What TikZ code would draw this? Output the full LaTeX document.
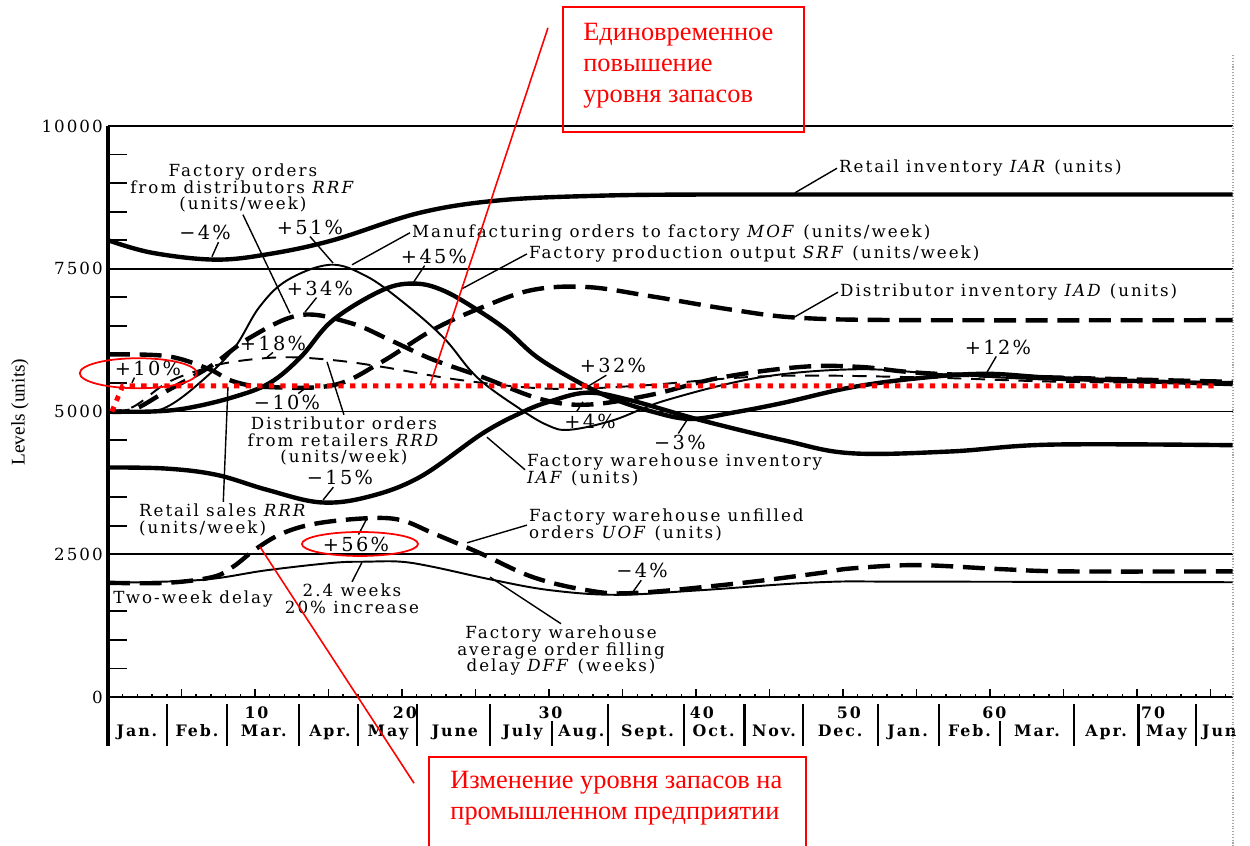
\documentclass[tikz,border=0pt]{standalone}
\usepackage{fontspec}
\setmainfont{DejaVu Serif}
\newfontfamily\chartfont[LetterSpace=12]{DejaVu Serif}
\newfontfamily\notefont{Liberation Serif}
\newfontfamily\levelfont{Liberation Serif}
\usetikzlibrary{positioning,calc}
\definecolor{notered}{RGB}{255,0,0}

\begin{document}
\begin{tikzpicture}[x=0.294cm, y=1.142cm,
    thincurve/.style={line width=1.1pt},
    thickcurve/.style={line width=2.5pt},
    thindash/.style={line width=1.1pt, dash pattern=on 8pt off 5.5pt},
    thickdash/.style={line width=2.5pt, dash pattern=on 12.5pt off 5.5pt},
    gridline/.style={line width=1pt},
    leader/.style={line width=0.8pt},
    lbl/.style={font=\chartfont\fontsize{9.5}{9.5}\selectfont, inner sep=1pt},
    pct/.style={font=\chartfont\fontsize{11}{11}\selectfont, inner sep=1pt},
    ticklbl/.style={font=\chartfont\fontsize{9.5}{10}\selectfont, inner sep=0pt},
    monthlbl/.style={font=\chartfont\bfseries\fontsize{9}{10}\selectfont, inner sep=0pt, anchor=base},
    notebox/.style={draw=notered, line width=1.2pt},
    notetext/.style={text=notered, font=\notefont\fontsize{15}{17.6}\selectfont, align=left, inner sep=0pt, anchor=north west},
    notelink/.style={draw=notered, line width=0.9pt},
    ring/.style={draw=notered, line width=1pt},
    reddots/.style={draw=notered, line width=2.8pt, dash pattern=on 3pt off 3.6pt}]
  \clip (-7.347,-2.609) rectangle (77.687,12.207);

  \foreach \v/\t in {0/0, 2.5/2500, 5/5000, 7.5/7500, 10/10000} {
    \draw[gridline] (0,\v) -- (76.5,\v);
    \node[ticklbl, anchor=east] (ytick\t) at (-0.34,\v) {\t};
  }
  \foreach \v in {0.5,1,...,9.5}
    \draw[line width=1pt] (0,\v) -- (1.3,\v);
  \draw[line width=2pt] (0,10) -- (0,-0.85);
  \foreach \w in {1,...,76}
    \draw[line width=0.8pt] (\w,0) -- (\w,0.06);
  \foreach \w in {5,10,...,75}
    \draw[line width=0.8pt] (\w,0) -- (\w,0.14);
  \foreach \m/\top in {4/-0.12, 8.1/-0.12, 13/-0.12, 17/-0.12, 21/-0.12, 26/-0.12, 30.2/-0.42, 34/-0.12, 39.2/-0.12,
      43.3/-0.12, 47.3/-0.12, 52.4/-0.12, 56.5/-0.12, 60.7/-0.42, 65.7/-0.12, 70.1/-0.12, 74/-0.12}
    \draw[line width=1.2pt] (\m,\top) -- (\m,-0.85);
  \foreach \w/\x in {10/10.1, 20/20.2, 30/30.1, 40/40.4, 50/50.4, 60/60.3, 70/71.1}
    \node[monthlbl] (wk\w) at (\x,-0.37) {\w};
  \foreach \x/\m [count=\i] in {1.97/Jan., 6.05/Feb., 10.6/Mar., 15.1/Apr., 19.05/May, 23.6/June,
      28.2/July, 32.2/Aug., 36.7/Sept., 41.2/Oct., 45.3/Nov., 49.8/Dec., 54.4/Jan., 58.6/Feb.,
      63.2/Mar., 67.9/Apr., 72.0/May, 75.6/Jun}
    \node[monthlbl] (mon\i) at (\x,-0.70) {\m};
  \node[rotate=90, font=\levelfont\fontsize{11}{12}\selectfont] (ylbl) at (-5.99,4.99) {Levels (units)};
  \draw[densely dotted, gray!70, line width=0.6pt] (76.53,11.24) -- (76.53,-2.609);

  \draw[thickcurve] plot [smooth, tension=0.6] coordinates {(0,8.0) (3,7.78) (7.3,7.66) (11,7.76) (15.3,8.0) (21.2,8.48) (26.7,8.7) (33.5,8.78) (40.3,8.8) (50,8.8) (76.5,8.8)};
  \draw[thincurve] plot [smooth, tension=0.6] coordinates {(0,5.0) (2.5,5.0) (4,5.08) (6,5.45) (8.5,6.08) (10.3,6.83) (12.2,7.3) (15.1,7.57) (17.5,7.38) (19.9,6.95) (22.8,6.3) (25.1,5.6) (28,5.05) (29.9,4.76) (31.4,4.68) (34.4,4.85) (38,5.2) (44.4,5.6) (51,5.74) (57,5.65) (65,5.55) (76.5,5.52)};
  \draw[thickcurve] plot [smooth, tension=0.6] coordinates {(0,5.0) (3,5.0) (5.4,5.06) (8.5,5.25) (11,5.5) (13.1,5.95) (15.3,6.6) (18.7,7.13) (20.9,7.24) (22.8,7.12) (25,6.8) (27.1,6.43) (29.2,5.95) (32.1,5.5) (34.4,5.22) (37,5.0) (39.6,4.87) (42.5,4.98) (45.9,5.15) (50.5,5.42) (55,5.58) (59.7,5.66) (65,5.58) (76.5,5.48)};
  \draw[thickcurve] plot [smooth, tension=0.6] coordinates {(0,4.02) (4,4.0) (7.4,3.89) (10.8,3.63) (14.4,3.41) (17.6,3.5) (21.2,3.85) (25.5,4.62) (28.2,4.99) (30,5.17) (32.6,5.33) (35.5,5.2) (40.3,4.85) (45.9,4.5) (50.5,4.27) (57.3,4.3) (64.1,4.42) (76.5,4.41)};
  \draw[thickdash] plot [smooth, tension=0.6] coordinates {(0,6.0) (4,5.97) (6.8,5.75) (8.5,5.53) (10.8,5.43) (15.3,5.46) (18.5,5.85) (22.1,6.43) (25.5,6.83) (28.9,7.13) (32.6,7.18) (36.9,7.02) (42.5,6.78) (47.1,6.64) (55,6.6) (76.5,6.6)};
  \draw[thickdash] plot [smooth, tension=0.6] coordinates {(0,5.0) (1.7,5.03) (4,5.36) (6.9,5.78) (9.7,6.3) (13.1,6.69) (16.5,6.55) (19.2,6.25) (22,5.92) (25.5,5.6) (29.4,5.22) (32.6,5.12) (36.9,5.29) (41.6,5.59) (47.1,5.78) (51.2,5.78) (57.3,5.65) (76.5,5.52)};
  \draw[thindash] plot [smooth, tension=0.6] coordinates {(0,5.0) (1.7,5.08) (4,5.5) (6.3,5.73) (8.5,5.87) (11.9,5.95) (15.3,5.9) (18.7,5.78) (24,5.55) (30,5.4) (36,5.45) (45,5.62) (55,5.6) (65,5.52) (76.5,5.5)};
  \draw[thickdash] plot [smooth, tension=0.6] coordinates {(0,2.0) (4,2.0) (7.1,2.1) (8.5,2.28) (10.1,2.6) (11.9,2.87) (14.2,3.04) (17.6,3.13) (19.9,3.1) (22.1,2.87) (25.3,2.52) (28.9,2.1) (32.6,1.87) (35.7,1.82) (42.5,1.98) (48.4,2.17) (50.5,2.25) (55,2.31) (60.7,2.24) (65.2,2.2) (76.5,2.2)};
  \draw[thincurve] plot [smooth, tension=0.6] coordinates {(0,2.0) (6.3,2.05) (10.8,2.22) (15.3,2.35) (17.6,2.37) (19.9,2.37) (22.1,2.28) (26.2,2.05) (30.1,1.87) (34.6,1.79) (40.3,1.87) (48.4,2.01) (55,2.02) (76.5,2.01)};

  \node[lbl, align=center] (rrflbl) at (9.18,8.91) {Factory orders\\from distributors \textit{RRF}\\(units/week)};
  \node[lbl, anchor=west] (moflbl) at (20.54,8.13) {Manufacturing orders to factory \textit{MOF} (units/week)};
  \node[lbl, anchor=west] (srflbl) at (28.5,7.76) {Factory production output \textit{SRF} (units/week)};
  \node[lbl, anchor=west] (iarlbl) at (49.59,9.26) {Retail inventory \textit{IAR} (units)};
  \node[lbl, anchor=west] (iadlbl) at (49.66,7.09) {Distributor inventory \textit{IAD} (units)};
  \node[lbl, align=center] (rrdlbl) at (16.05,4.48) {Distributor orders\\from retailers \textit{RRD}\\(units/week)};
  \node[lbl, align=left, anchor=west] (iaflbl) at (28.37,3.98) {Factory warehouse inventory\\\textit{IAF} (units)};
  \node[lbl, align=left, anchor=west] (rrrlbl) at (1.97,3.10) {Retail sales \textit{RRR}\\(units/week)};
  \node[lbl, align=left, anchor=west] (uoflbl) at (28.5,3.01) {Factory warehouse unfilled\\orders \textit{UOF} (units)};
  \node[lbl, align=center] (dfflbl) at (30.82,0.81) {Factory warehouse\\average order filling\\delay \textit{DFF} (weeks)};
  \node[lbl] (twolbl) at (5.78,1.72) {Two-week delay};
  \node[lbl, align=center] (inclbl) at (16.6,1.72) {2.4 weeks\\20\% increase};

  \coordinate (rrfpt) at (12.38,6.72);
  \coordinate (mofpt) at (16.6,7.57);
  \coordinate (srfpt) at (24.08,7.15);
  \coordinate (iarpt) at (46.73,8.83);
  \coordinate (iadpt) at (46.6,6.64);
  \coordinate (rrdpt) at (14.9,5.87);
  \coordinate (iafpt) at (25.78,4.55);
  \coordinate (rrrpt) at (8.16,5.43);
  \coordinate (uofpt) at (24.42,2.70);
  \coordinate (dffpt) at (25.99,2.10);
  \coordinate (incpt) at (17.28,2.36);
  \draw[leader] (rrflbl.south) -- (rrfpt);
  \draw[leader] (moflbl.west) -- (mofpt);
  \draw[leader] (srflbl.west) -- (srfpt);
  \draw[leader] (iarlbl.west) -- (iarpt);
  \draw[leader] (iadlbl.west) -- (iadpt);
  \draw[leader] (rrdlbl.north) -- (rrdpt);
  \draw[leader] (iaflbl.west) -- (iafpt);
  \draw[leader] (rrrlbl.north) -- (rrrpt);
  \draw[leader] (uoflbl.west) -- (uofpt);
  \draw[leader] (dfflbl.north) -- (dffpt);
  \draw[leader] (inclbl.north) -- (incpt);

  \foreach \n/\x/\y/\t/\a/\ex/\ey in {
      iarm4/6.6/8.13/{−4\%}/325/7.07/7.71,
      mofp51/13.74/8.23/{+51\%}/270/15.31/7.6,
      srfp45/22.18/7.72/{+45\%}/225/20.75/7.25,
      rrfp34/14.42/7.16/{+34\%}/250/13.4/6.74,
      rrdp18/11.22/6.2/{+18\%}/270/10.82/5.95,
      rrrp10/2.72/5.76/{+10\%}/215/1.63/5.5,
      iadm10/12.18/5.15/{−10\%}/40/13.54/5.43,
      iafp32/34.35/5.8/{+32\%}/235/32.45/5.41,
      rrfp4/32.79/4.83/{+4\%}/145/32.31/5.17,
      srfm3/38.91/4.45/{−3\%}/100/39.39/4.85,
      srfp12/60.54/6.13/{+12\%}/260/59.8/5.69,
      iafm15/15.78/3.84/{−15\%}/235/14.63/3.45,
      uofp56/16.87/2.68/{+56\%}/75/17.62/3.13,
      uofm4/36.33/2.21/{−4\%}/265/35.71/1.84} {
    \node[pct] (\n) at (\x,\y) {\t};
    \coordinate (\n pt) at (\ex,\ey);
    \draw[leader] (\n.\a) -- (\n pt);
  }

  \draw[reddots] (0.27,5.0) -- (1.0,5.45) -- (75.3,5.45);
  \draw[ring] (2.06,5.67) ellipse [x radius=3.98, y radius=0.263];
  \draw[ring] (17.14,2.68) ellipse [x radius=3.95, y radius=0.21];

  \draw[notebox] (30.95,12.08) rectangle (47.35,9.89);
  \node[notetext] (note1) at (32.31,11.8) {Единовременное\\повышение\\уровня запасов};
  \draw[notebox] (21.84,-1.05) rectangle (47.48,-3.2);
  \node[notetext] (note2) at (23.27,-1.3) {Изменение уровня запасов на\\промышленном предприятии};
  \coordinate (link1a) at (29.93,11.72);
  \coordinate (link1b) at (21.9,5.46);
  \coordinate (link2a) at (10.34,2.63);
  \coordinate (link2b) at (20.82,-1.51);
  \draw[notelink] (link1a) -- (link1b);
  \draw[notelink] (link2a) -- (link2b);
\end{tikzpicture}
\end{document}
